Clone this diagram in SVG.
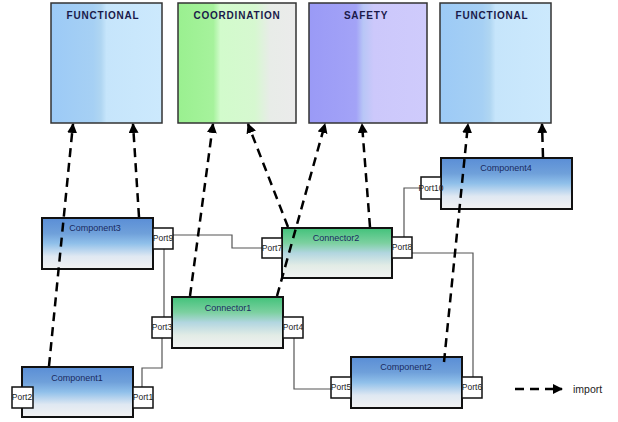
<svg xmlns="http://www.w3.org/2000/svg" width="618" height="422" viewBox="0 0 618 422">
<defs>
<linearGradient id="gFunc" x1="0" y1="0" x2="1" y2="0">
<stop offset="0" stop-color="#9ccaf6"/><stop offset="0.38" stop-color="#a6d0f4"/><stop offset="0.45" stop-color="#b0d6f2"/><stop offset="0.5" stop-color="#c6e5fb"/><stop offset="1" stop-color="#cce9fd"/>
</linearGradient>
<linearGradient id="gCoord" x1="0" y1="0" x2="1" y2="0">
<stop offset="0" stop-color="#9af090"/><stop offset="0.3" stop-color="#a6f29c"/><stop offset="0.36" stop-color="#d2fbcc"/><stop offset="0.65" stop-color="#d6f8d0"/><stop offset="0.78" stop-color="#e8ece8"/><stop offset="1" stop-color="#ebebeb"/>
</linearGradient>
<linearGradient id="gSafe" x1="0" y1="0" x2="1" y2="0">
<stop offset="0" stop-color="#9a9af6"/><stop offset="0.4" stop-color="#a3a3f7"/><stop offset="0.46" stop-color="#b8c6f6"/><stop offset="0.55" stop-color="#ccc8fb"/><stop offset="1" stop-color="#cfcbfc"/>
</linearGradient>
<linearGradient id="gComp" x1="0" y1="0" x2="0" y2="1">
<stop offset="0" stop-color="#5a8ed6"/><stop offset="0.3" stop-color="#6fa0da"/><stop offset="0.5" stop-color="#90c0ea"/><stop offset="0.75" stop-color="#dfe8f2"/><stop offset="1" stop-color="#f2f2f2"/>
</linearGradient>
<linearGradient id="gConn" x1="0" y1="0" x2="0" y2="1">
<stop offset="0" stop-color="#42c27a"/><stop offset="0.3" stop-color="#7cd0a0"/><stop offset="0.5" stop-color="#b2d6e0"/><stop offset="0.75" stop-color="#e2ece6"/><stop offset="1" stop-color="#f2f2f2"/>
</linearGradient>
<marker id="arr" viewBox="0 0 10 10" refX="9" refY="5" markerWidth="4" markerHeight="4" orient="auto" markerUnits="strokeWidth">
<path d="M0,0 L10,5 L0,10 z" fill="#000"/>
</marker>
</defs>
<style>
.layer{stroke:#333;stroke-width:1.5}
.title{font-family:"Liberation Sans",Arial,sans-serif;font-weight:bold;font-size:10px;fill:#1a1a4a;letter-spacing:0.8px;text-anchor:middle}
.box{stroke:#111;stroke-width:2}
.lbl{font-family:"Liberation Sans",Arial,sans-serif;font-size:9px;fill:#1a2a60;text-anchor:middle}
.port{fill:#fff;stroke:#111;stroke-width:1.5}
.plbl{font-family:"Liberation Sans",Arial,sans-serif;font-size:8.5px;fill:#222;text-anchor:middle}
.wire{fill:none;stroke:#555;stroke-width:1.2}
.imp{fill:none;stroke:#000;stroke-width:2.5;stroke-dasharray:9,6;marker-end:url(#arr)}
</style>
<rect width="618" height="422" fill="#fff"/>

<g id="layer-functional1">
<rect class="layer" x="51" y="3" width="111" height="120" fill="url(#gFunc)"/>
<text class="title" x="103" y="19">FUNCTIONAL</text>
</g>
<g id="layer-coordination">
<rect class="layer" x="178" y="3" width="118" height="120" fill="url(#gCoord)"/>
<text class="title" x="237" y="19">COORDINATION</text>
</g>
<g id="layer-safety">
<rect class="layer" x="309" y="3" width="118" height="120" fill="url(#gSafe)"/>
<text class="title" x="366" y="19">SAFETY</text>
</g>
<g id="layer-functional2">
<rect class="layer" x="440" y="3" width="111" height="120" fill="url(#gFunc)"/>
<text class="title" x="492" y="19">FUNCTIONAL</text>
</g>

<g id="wires">
<path class="wire" d="M173,235 H232 V248 H262"/>
<path class="wire" d="M164,249 V317"/>
<path class="wire" d="M162,338 V368 H142 V387"/>
<path class="wire" d="M294,338 V389 H331"/>
<path class="wire" d="M404,237 V188 H421"/>
<path class="wire" d="M412,253 H473 V377"/>
</g>

<g id="component3">
<rect class="box" x="42" y="218" width="111" height="51" fill="url(#gComp)"/>
<text class="lbl" x="95" y="231">Component3</text>
<g id="port9"><rect class="port" x="153" y="228" width="20" height="21"/><text class="plbl" x="163" y="241">Port9</text></g>
</g>
<g id="connector2">
<rect class="box" x="282" y="228" width="110" height="50" fill="url(#gConn)"/>
<text class="lbl" x="336" y="241">Connector2</text>
<g id="port7"><rect class="port" x="262" y="238" width="20" height="20"/><text class="plbl" x="272" y="251">Port7</text></g>
<g id="port8"><rect class="port" x="392" y="237" width="20" height="21"/><text class="plbl" x="402" y="250">Port8</text></g>
</g>
<g id="component4">
<rect class="box" x="441" y="158" width="131" height="51" fill="url(#gComp)"/>
<text class="lbl" x="506" y="171">Component4</text>
<g id="port10"><rect class="port" x="421" y="177" width="20" height="22"/><text class="plbl" x="431" y="191">Port10</text></g>
</g>
<g id="connector1">
<rect class="box" x="172" y="297" width="111" height="51" fill="url(#gConn)"/>
<text class="lbl" x="228" y="311">Connector1</text>
<g id="port3"><rect class="port" x="152" y="317" width="20" height="21"/><text class="plbl" x="162" y="330">Port3</text></g>
<g id="port4"><rect class="port" x="283" y="317" width="20" height="21"/><text class="plbl" x="293" y="330">Port4</text></g>
</g>
<g id="component1">
<rect class="box" x="22" y="367" width="111" height="50" fill="url(#gComp)"/>
<text class="lbl" x="77" y="381">Component1</text>
<g id="port2"><rect class="port" x="12" y="387" width="21" height="21"/><text class="plbl" x="22" y="400">Port2</text></g>
<g id="port1"><rect class="port" x="133" y="387" width="20" height="21"/><text class="plbl" x="143" y="400">Port1</text></g>
</g>
<g id="component2">
<rect class="box" x="351" y="357" width="111" height="51" fill="url(#gComp)"/>
<text class="lbl" x="406" y="370">Component2</text>
<g id="port5"><rect class="port" x="331" y="377" width="20" height="21"/><text class="plbl" x="341" y="390">Port5</text></g>
<g id="port6"><rect class="port" x="462" y="377" width="20" height="21"/><text class="plbl" x="472" y="390">Port6</text></g>
</g>

<g id="imports">
<path class="imp" d="M49,366 L73,124"/>
<path class="imp" d="M139,217 L133,124"/>
<path class="imp" d="M190,296 L213,124"/>
<path class="imp" d="M288,227 L248,124"/>
<path class="imp" d="M277,296 L325,124"/>
<path class="imp" d="M370,227 L362,124"/>
<path class="imp" d="M444,362 L468,124"/>
<path class="imp" d="M543,157 L542,124"/>
</g>

<g id="legend">
<path d="M515,389 H562" fill="none" stroke="#000" stroke-width="2.5" stroke-dasharray="9,6" marker-end="url(#arr)"/>
<text x="573" y="393" font-family="'Liberation Sans',Arial,sans-serif" font-size="10.5px" fill="#222">import</text>
</g>
</svg>
